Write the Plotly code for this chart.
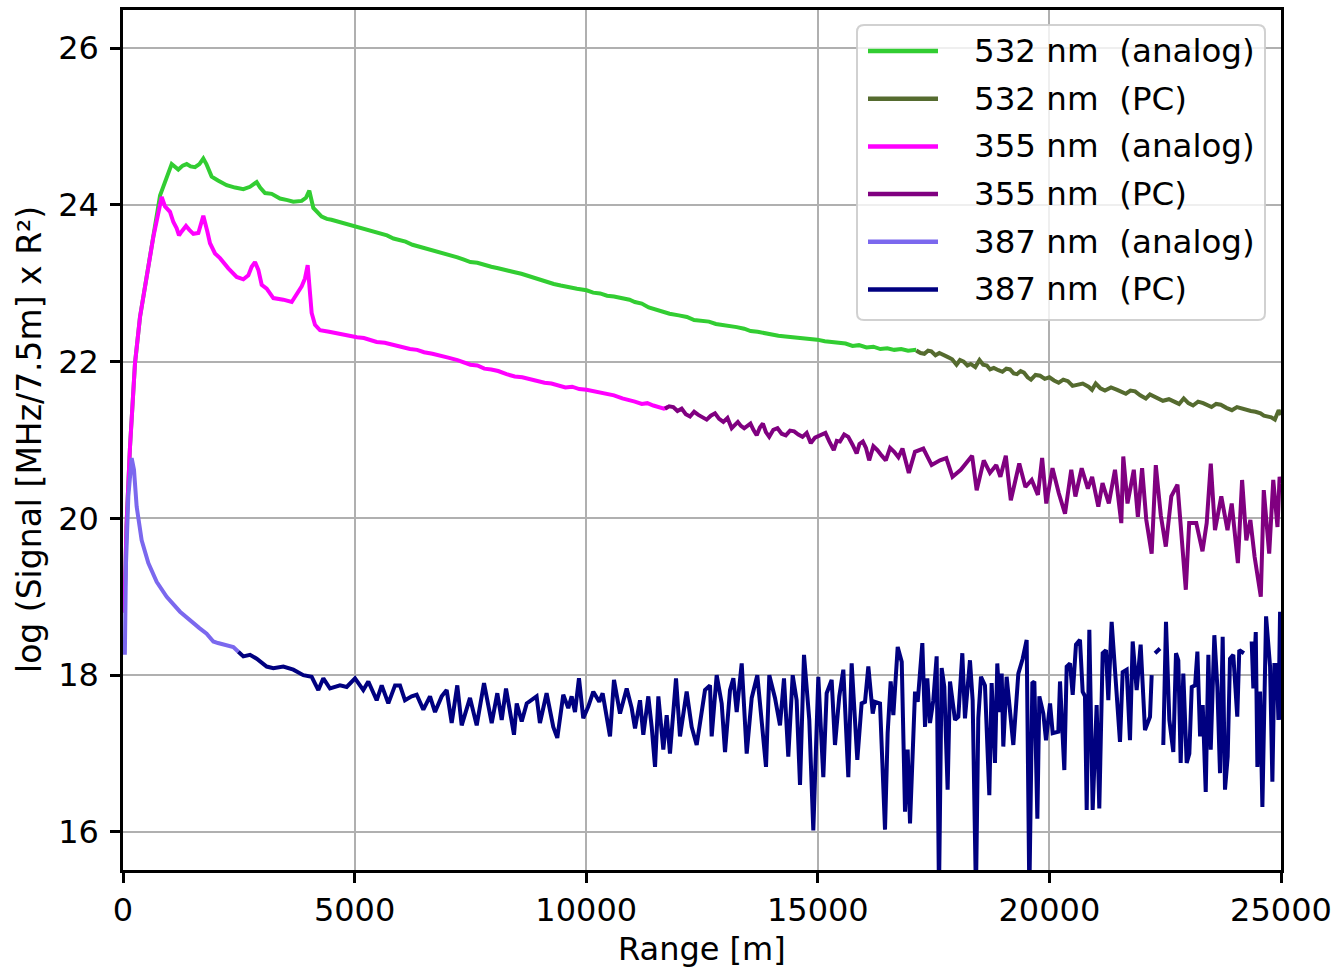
import plotly.graph_objects as go

# ---------------- data (range [m], log signal) ----------------
pts_532_analog = [
    (30, 18.80), (75, 19.90), (151, 20.91), (259, 21.98), (367, 22.57), (511, 23.08),
    (655, 23.59), (800, 24.12), (1051, 24.52), (1120, 24.48), (1194, 24.45), (1290, 24.50),
    (1375, 24.52), (1460, 24.49), (1554, 24.48), (1650, 24.52), (1734, 24.59), (1800, 24.52),
    (1914, 24.36), (2050, 24.31), (2238, 24.25), (2420, 24.22), (2598, 24.20), (2742, 24.23),
    (2886, 24.29), (2960, 24.22), (3066, 24.15), (3210, 24.14), (3389, 24.08), (3550, 24.06),
    (3677, 24.04), (3858, 24.05), (3950, 24.09), (4022, 24.18), (4070, 24.05), (4109, 23.96),
    (4289, 23.85), (4400, 23.82), (4500, 23.81), (4620, 23.79), (4757, 23.76), (4880, 23.75),
    (5000, 23.73), (5120, 23.71), (5250, 23.68), (5360, 23.67), (5477, 23.64), (5600, 23.62),
    (5700, 23.61), (5840, 23.57), (5980, 23.55), (6100, 23.53), (6250, 23.49), (6380, 23.47),
    (6500, 23.44), (6650, 23.43), (6844, 23.39), (7000, 23.37), (7100, 23.36), (7220, 23.33),
    (7360, 23.30), (7500, 23.27), (7650, 23.26), (7800, 23.23), (7950, 23.21), (8100, 23.19),
    (8280, 23.17), (8457, 23.14), (8600, 23.12), (8750, 23.09), (8880, 23.07), (9000, 23.04),
    (9150, 23.02), (9300, 22.99), (9450, 22.97), (9600, 22.95), (9800, 22.93), (10007, 22.91),
    (10150, 22.88), (10300, 22.87), (10450, 22.84), (10600, 22.83), (10780, 22.81), (10935, 22.79),
    (11050, 22.76), (11200, 22.74), (11350, 22.69), (11500, 22.66), (11650, 22.64), (11800, 22.61),
    (12000, 22.59), (12174, 22.57), (12330, 22.53), (12500, 22.52), (12650, 22.51), (12800, 22.48),
    (12950, 22.47), (13100, 22.45), (13250, 22.44), (13411, 22.42), (13550, 22.39), (13700, 22.38),
    (13850, 22.36), (14000, 22.35), (14150, 22.33), (14300, 22.32), (14480, 22.31), (14650, 22.30),
    (14800, 22.28), (14985, 22.28), (15150, 22.26), (15300, 22.25), (15450, 22.23), (15600, 22.23),
    (15750, 22.20), (15889, 22.21), (16050, 22.18), (16200, 22.19), (16350, 22.16), (16500, 22.17),
    (16650, 22.15), (16800, 22.16), (16950, 22.14), (17126, 22.15),
]

pts_532_pc = [
    (17126, 22.14), (17220, 22.11), (17300, 22.10), (17380, 22.14), (17450, 22.13), (17540, 22.08),
    (17624, 22.11), (17710, 22.09), (17800, 22.06), (17900, 22.03), (17995, 21.96), (18070, 22.02),
    (18150, 22.00), (18230, 21.95), (18300, 21.97), (18400, 21.93), (18491, 22.02), (18570, 21.96),
    (18650, 21.95), (18720, 21.90), (18800, 21.92), (18900, 21.89), (18985, 21.87), (19070, 21.91),
    (19150, 21.90), (19230, 21.85), (19300, 21.84), (19380, 21.88), (19450, 21.86), (19530, 21.80),
    (19603, 21.77), (19700, 21.83), (19800, 21.82), (19900, 21.78), (20000, 21.80), (20100, 21.76),
    (20200, 21.73), (20300, 21.77), (20400, 21.75), (20500, 21.69), (20600, 21.70), (20720, 21.72),
    (20844, 21.68), (20920, 21.64), (21000, 21.72), (21100, 21.66), (21200, 21.63), (21330, 21.67),
    (21464, 21.64), (21560, 21.61), (21650, 21.59), (21750, 21.63), (21850, 21.62), (21960, 21.57),
    (22082, 21.53), (22170, 21.58), (22250, 21.56), (22350, 21.53), (22450, 21.50), (22580, 21.52),
    (22700, 21.49), (22800, 21.46), (22900, 21.53), (23000, 21.47), (23100, 21.44), (23210, 21.49),
    (23320, 21.47), (23420, 21.44), (23500, 21.42), (23600, 21.46), (23700, 21.45), (23820, 21.41),
    (23940, 21.38), (24050, 21.42), (24150, 21.40), (24250, 21.39), (24350, 21.37), (24450, 21.36),
    (24558, 21.34), (24630, 21.31), (24700, 21.30), (24790, 21.29), (24868, 21.26), (24950, 21.38),
    (25000, 21.32),
]

pts_355_analog = [
    (30, 18.80), (75, 19.90), (151, 20.91), (259, 21.98), (367, 22.57), (511, 23.08),
    (655, 23.59), (835, 24.10), (907, 23.98), (1015, 23.91), (1087, 23.78), (1159, 23.70),
    (1209, 23.61), (1267, 23.66), (1360, 23.73), (1432, 23.68), (1519, 23.63), (1627, 23.64),
    (1734, 23.86), (1821, 23.66), (1878, 23.51), (1986, 23.38), (2094, 23.32), (2274, 23.19),
    (2454, 23.08), (2598, 23.05), (2706, 23.10), (2778, 23.21), (2850, 23.27), (2922, 23.17),
    (2994, 22.98), (3102, 22.93), (3246, 22.81), (3461, 22.79), (3642, 22.76), (3858, 22.96),
    (3929, 23.06), (3987, 23.23), (4037, 22.91), (4073, 22.62), (4145, 22.47), (4253, 22.40),
    (4450, 22.38), (4613, 22.36), (4750, 22.35), (4901, 22.32), (5050, 22.31), (5200, 22.30),
    (5350, 22.27), (5477, 22.25), (5650, 22.24), (5837, 22.21), (6000, 22.19), (6196, 22.16),
    (6350, 22.15), (6500, 22.12), (6680, 22.10), (6844, 22.07), (7020, 22.05), (7220, 22.02),
    (7360, 21.99), (7500, 21.96), (7650, 21.95), (7800, 21.91), (7950, 21.90), (8100, 21.88),
    (8280, 21.84), (8457, 21.81), (8620, 21.80), (8800, 21.77), (8950, 21.75), (9100, 21.73),
    (9250, 21.72), (9400, 21.70), (9550, 21.67), (9696, 21.68), (9850, 21.65), (10007, 21.64),
    (10150, 21.62), (10300, 21.60), (10450, 21.59), (10600, 21.57), (10780, 21.53), (10935, 21.51),
    (11050, 21.49), (11200, 21.46), (11320, 21.47), (11450, 21.44), (11560, 21.42), (11677, 21.40),
    (11760, 21.42),
]

pts_355_pc = [
    (11701, 21.40), (11790, 21.43), (11880, 21.42), (11970, 21.37), (12061, 21.40), (12150, 21.33),
    (12241, 21.30), (12330, 21.36), (12421, 21.32), (12510, 21.29), (12601, 21.26), (12690, 21.31),
    (12781, 21.34), (12870, 21.27), (12961, 21.23), (13050, 21.28), (13141, 21.15), (13274, 21.23),
    (13340, 21.18), (13411, 21.15), (13546, 21.21), (13610, 21.13), (13681, 21.06), (13750, 21.16),
    (13815, 21.21), (13880, 21.10), (13951, 21.04), (14040, 21.13), (14130, 21.15), (14220, 21.08),
    (14309, 21.06), (14400, 21.12), (14490, 21.11), (14580, 21.07), (14669, 21.04), (14760, 21.09),
    (14849, 20.96), (14940, 21.03), (15030, 21.06), (15164, 21.09), (15250, 20.98), (15345, 20.87),
    (15410, 20.99), (15479, 20.98), (15570, 21.07), (15658, 21.04), (15750, 20.94), (15839, 20.83),
    (15900, 20.95), (15973, 20.98), (16040, 20.90), (16109, 20.74), (16200, 20.92), (16288, 20.87),
    (16380, 20.80), (16468, 20.74), (16560, 20.90), (16649, 20.85), (16740, 20.78), (16828, 20.89),
    (16965, 20.58), (17098, 20.85), (17278, 20.89), (17458, 20.68), (17638, 20.74), (17774, 20.77),
    (17908, 20.53), (18087, 20.62), (18331, 20.80), (18430, 20.36), (18583, 20.74), (18717, 20.58),
    (18853, 20.68), (18942, 20.53), (19059, 20.80), (19167, 20.23), (19349, 20.70), (19482, 20.40),
    (19618, 20.49), (19752, 20.30), (19843, 20.77), (19933, 20.19), (20067, 20.64), (20203, 20.32),
    (20337, 20.06), (20472, 20.62), (20561, 20.28), (20697, 20.64), (20831, 20.38), (20922, 20.53),
    (21056, 20.15), (21147, 20.45), (21283, 20.19), (21416, 20.62), (21552, 19.94), (21595, 20.79),
    (21686, 20.19), (21822, 20.62), (21910, 20.02), (22001, 20.64), (22092, 19.98), (22208, 19.55),
    (22297, 20.68), (22405, 20.04), (22513, 19.64), (22632, 20.28), (22765, 20.43), (22837, 19.94),
    (22945, 19.09), (23018, 19.94), (23171, 19.94), (23305, 19.58), (23396, 19.94), (23484, 20.70),
    (23575, 19.85), (23711, 20.28), (23845, 19.85), (23936, 20.19), (24069, 19.43), (24160, 20.49),
    (24251, 19.72), (24339, 19.98), (24430, 19.51), (24564, 19.00), (24628, 20.36), (24745, 19.55),
    (24833, 20.49), (24924, 19.89), (24970, 20.53), (25000, 20.45),
]

pts_387_analog = [
    (40, 18.26), (65, 19.43), (115, 20.28), (187, 20.77), (237, 20.62), (295, 20.15),
    (403, 19.72), (547, 19.43), (727, 19.19), (943, 19.00), (1231, 18.81), (1519, 18.66),
    (1650, 18.60), (1806, 18.53), (1880, 18.47), (1950, 18.43), (2050, 18.41), (2166, 18.39),
    (2280, 18.38), (2382, 18.36), (2490, 18.30),
]

pts_387_pc = [
    (2490, 18.30), (2598, 18.24), (2742, 18.26), (2886, 18.21), (3102, 18.11), (3246, 18.09),
    (3461, 18.11), (3677, 18.07), (3893, 18.00), (4073, 17.98), (4217, 17.81), (4325, 17.96),
    (4469, 17.83), (4685, 17.87), (4829, 17.85), (5009, 17.96), (5188, 17.81), (5296, 17.92),
    (5477, 17.68), (5585, 17.87), (5728, 17.64), (5873, 17.87), (5980, 17.87), (6088, 17.68),
    (6232, 17.73), (6340, 17.75), (6484, 17.56), (6628, 17.73), (6736, 17.53), (6880, 17.73),
    (6988, 17.81), (7096, 17.39), (7217, 17.87), (7312, 17.36), (7491, 17.71), (7636, 17.36),
    (7794, 17.90), (7960, 17.39), (8081, 17.77), (8176, 17.43), (8269, 17.83), (8441, 17.24),
    (8500, 17.64), (8608, 17.41), (8716, 17.64), (8929, 17.73), (9001, 17.39), (9145, 17.77),
    (9289, 17.34), (9376, 17.20), (9505, 17.75), (9613, 17.58), (9686, 17.73), (9758, 17.53),
    (9844, 17.96), (9937, 17.45), (10045, 17.60), (10153, 17.79), (10283, 17.66), (10355, 17.77),
    (10514, 17.22), (10600, 17.94), (10730, 17.51), (10874, 17.83), (10982, 17.58), (11054, 17.32),
    (11162, 17.68), (11233, 17.24), (11341, 17.73), (11414, 17.34), (11486, 16.83), (11558, 17.73),
    (11665, 17.05), (11738, 17.49), (11809, 17.00), (11939, 17.96), (12025, 17.22), (12169, 17.79),
    (12277, 17.34), (12385, 17.11), (12565, 17.81), (12673, 17.87), (12709, 17.22), (12817, 18.00),
    (12925, 17.64), (12997, 17.02), (13105, 17.81), (13177, 17.96), (13249, 17.53), (13357, 18.15),
    (13465, 17.00), (13573, 17.71), (13694, 18.00), (13789, 17.43), (13882, 16.83), (13953, 18.00),
    (14076, 17.71), (14184, 17.36), (14270, 17.96), (14363, 16.96), (14458, 18.00), (14543, 17.68),
    (14616, 16.60), (14702, 18.26), (14816, 17.43), (14903, 16.02), (15011, 17.98), (15119, 16.70),
    (15191, 17.77), (15299, 17.94), (15371, 17.11), (15464, 17.73), (15551, 18.07), (15659, 16.70),
    (15731, 18.15), (15853, 16.92), (15946, 17.64), (16019, 17.66), (16091, 18.11), (16186, 17.51),
    (16235, 17.66), (16343, 17.64), (16451, 16.03), (16508, 17.26), (16573, 17.92), (16631, 17.49),
    (16725, 18.36), (16812, 18.17), (16883, 16.26), (16940, 17.05), (16991, 16.11), (17099, 17.79),
    (17157, 17.66), (17257, 18.41), (17315, 17.34), (17364, 17.96), (17422, 17.39), (17494, 17.68),
    (17566, 18.24), (17616, 15.20), (17674, 18.09), (17731, 17.85), (17803, 16.54), (17854, 17.92),
    (17962, 17.43), (18034, 17.47), (18120, 18.28), (18177, 17.45), (18285, 18.19), (18343, 17.68),
    (18414, 15.20), (18465, 17.45), (18523, 17.98), (18609, 17.87), (18703, 16.47), (18753, 17.90),
    (18825, 16.88), (18875, 18.15), (18934, 17.53), (18970, 18.02), (19005, 17.09), (19077, 17.98),
    (19134, 17.64), (19221, 17.11), (19329, 18.02), (19423, 18.21), (19509, 18.45), (19567, 15.20),
    (19632, 17.90), (19675, 17.92), (19740, 16.17), (19783, 17.73), (19869, 17.51), (19927, 17.17),
    (20014, 17.64), (20071, 17.26), (20193, 17.28), (20229, 17.92), (20322, 16.79), (20373, 18.11),
    (20445, 18.15), (20503, 17.75), (20574, 18.39), (20660, 18.45), (20718, 17.79), (20768, 17.73),
    (20805, 16.28), (20862, 18.58), (20934, 16.28), (21020, 17.62), (21077, 16.30), (21150, 18.28),
    (21221, 18.32), (21272, 17.68), (21344, 18.68), (21416, 18.09), (21524, 17.15), (21582, 18.04),
    (21668, 18.07), (21740, 17.17), (21798, 18.43), (21884, 17.81), (21970, 18.39), (22064, 17.30),
    (22172, 17.47), (22208, 18.00), (22245, None), (22280, 18.28), (22388, 18.34), (22420, None),
    (22459, 17.11), (22517, 18.68), (22589, 17.43), (22675, 17.02), (22733, 18.28), (22783, 18.19),
    (22834, 16.88), (22891, 18.02), (22964, 16.88), (23021, 17.00), (23073, 17.85), (23145, 17.87),
    (23195, 18.30), (23253, 17.22), (23310, 17.62), (23375, 16.51), (23432, 18.26), (23483, 17.05),
    (23561, 18.51), (23626, 17.85), (23683, 16.75), (23741, 18.49), (23791, 16.54), (23849, 16.96),
    (23899, 18.21), (23970, 18.26), (24056, 17.47), (24099, 18.32), (24200, 18.28), (24280, None),
    (24367, 18.43), (24403, 17.83), (24455, 18.55), (24490, 16.83), (24548, 17.79), (24598, 16.32),
    (24678, 18.75), (24764, 18.11), (24814, 16.64), (24857, 18.13), (24908, 18.13), (24944, 17.43),
    (24980, 18.81), (25000, 17.43),
]

series_names = ["532 nm\u00a0 (analog)", "532 nm\u00a0 (PC)", "355 nm\u00a0 (analog)",
                "355 nm\u00a0 (PC)", "387 nm\u00a0 (analog)", "387 nm\u00a0 (PC)"]
series_colors = ["#32CD32", "#556B2F", "#FF00FF", "#800080", "#7B68EE", "#000080"]
series_data = [pts_532_analog, pts_532_pc, pts_355_analog, pts_355_pc, pts_387_analog, pts_387_pc]

x_ticks = [0, 5000, 10000, 15000, 20000, 25000]
y_ticks = [16, 18, 20, 22, 24, 26]
x_range = [0, 25000]
y_range = [15.515, 26.485]

# ---------------- figure ----------------
W, H = 1334, 969
ML, MR, MT, MB = 123, 53, 10, 99
PW, PH = W - ML - MR, H - MT - MB

fig = go.Figure()
for name, color, pts in zip(series_names, series_colors, series_data):
    fig.add_trace(go.Scatter(
        x=[p[0] for p in pts], y=[p[1] for p in pts], mode="lines", name=name,
        line=dict(color=color, width=4), connectgaps=False, showlegend=False,
    ))

font_family = "DejaVu Sans"
axis_common = dict(
    showline=True, linecolor="black", linewidth=2.5, mirror=True,
    showgrid=True, gridcolor="#b0b0b0", gridwidth=2,
    ticks="outside", ticklen=10, tickwidth=2.5, tickcolor="black",
    tickfont=dict(family=font_family, size=32, color="black"),
    zeroline=False, automargin=False,
)
fig.update_xaxes(range=x_range, tickvals=x_ticks, ticktext=[str(v) for v in x_ticks], **axis_common)
fig.update_yaxes(range=y_range, tickvals=y_ticks, ticktext=[str(v) for v in y_ticks],
                 ticklabelstandoff=5, **axis_common)


def px2paper(px, py):
    return (px - ML) / PW, (H - MB - py) / PH


shapes = []
annotations = []

# legend frame (rounded)
lx0, ly0 = px2paper(857, 25)
lx1, ly1 = px2paper(1265, 320)
rx, ry = 7 / PW, 7 / PH
path = (f"M {lx0 + rx},{ly0} L {lx1 - rx},{ly0} Q {lx1},{ly0} {lx1},{ly0 - ry} "
        f"L {lx1},{ly1 + ry} Q {lx1},{ly1} {lx1 - rx},{ly1} "
        f"L {lx0 + rx},{ly1} Q {lx0},{ly1} {lx0},{ly1 + ry} "
        f"L {lx0},{ly0 - ry} Q {lx0},{ly0} {lx0 + rx},{ly0} Z")
shapes.append(dict(type="path", path=path, xref="paper", yref="paper",
                   fillcolor="rgba(255,255,255,0.8)", line=dict(color="rgba(204,204,204,0.9)", width=2),
                   layer="above"))

legend_rows_py = [51, 98.7, 146.4, 194.1, 241.8, 289.5]
for name, color, py in zip(series_names, series_colors, legend_rows_py):
    x0, yy = px2paper(868, py)
    x1, _ = px2paper(938, py)
    shapes.append(dict(type="line", xref="paper", yref="paper", x0=x0, x1=x1, y0=yy, y1=yy,
                       line=dict(color=color, width=4.5), layer="above"))
    tx, _ = px2paper(972, py)
    annotations.append(dict(text=name, xref="paper", yref="paper", x=tx, y=yy,
                            xanchor="left", yanchor="middle", showarrow=False,
                            font=dict(family=font_family, size=32.5, color="black")))

# axis titles
xt, yt = px2paper(702, 949)
annotations.append(dict(text="Range [m]", xref="paper", yref="paper", x=0.5, y=yt,
                        xanchor="center", yanchor="middle", showarrow=False,
                        font=dict(family=font_family, size=32, color="black")))
xt, yt = px2paper(29, 440)
annotations.append(dict(text="log (Signal [MHz/7.5m] x R²)", xref="paper", yref="paper", x=xt, y=0.5,
                        xanchor="center", yanchor="middle", textangle=-90, showarrow=False,
                        font=dict(family=font_family, size=33, color="black")))

fig.update_layout(
    width=W, height=H, autosize=False,
    margin=dict(l=ML, r=MR, t=MT, b=MB, pad=0),
    paper_bgcolor="white", plot_bgcolor="white",
    font=dict(family=font_family, color="black"),
    shapes=shapes, annotations=annotations, showlegend=False,
)

fig.write_html(
    "out.html",
    config={"responsive": False},
    post_script=("document.documentElement.style.margin='0';document.body.style.margin='0';"
                 "document.documentElement.style.overflow='hidden';document.body.style.overflow='hidden';"),
)
